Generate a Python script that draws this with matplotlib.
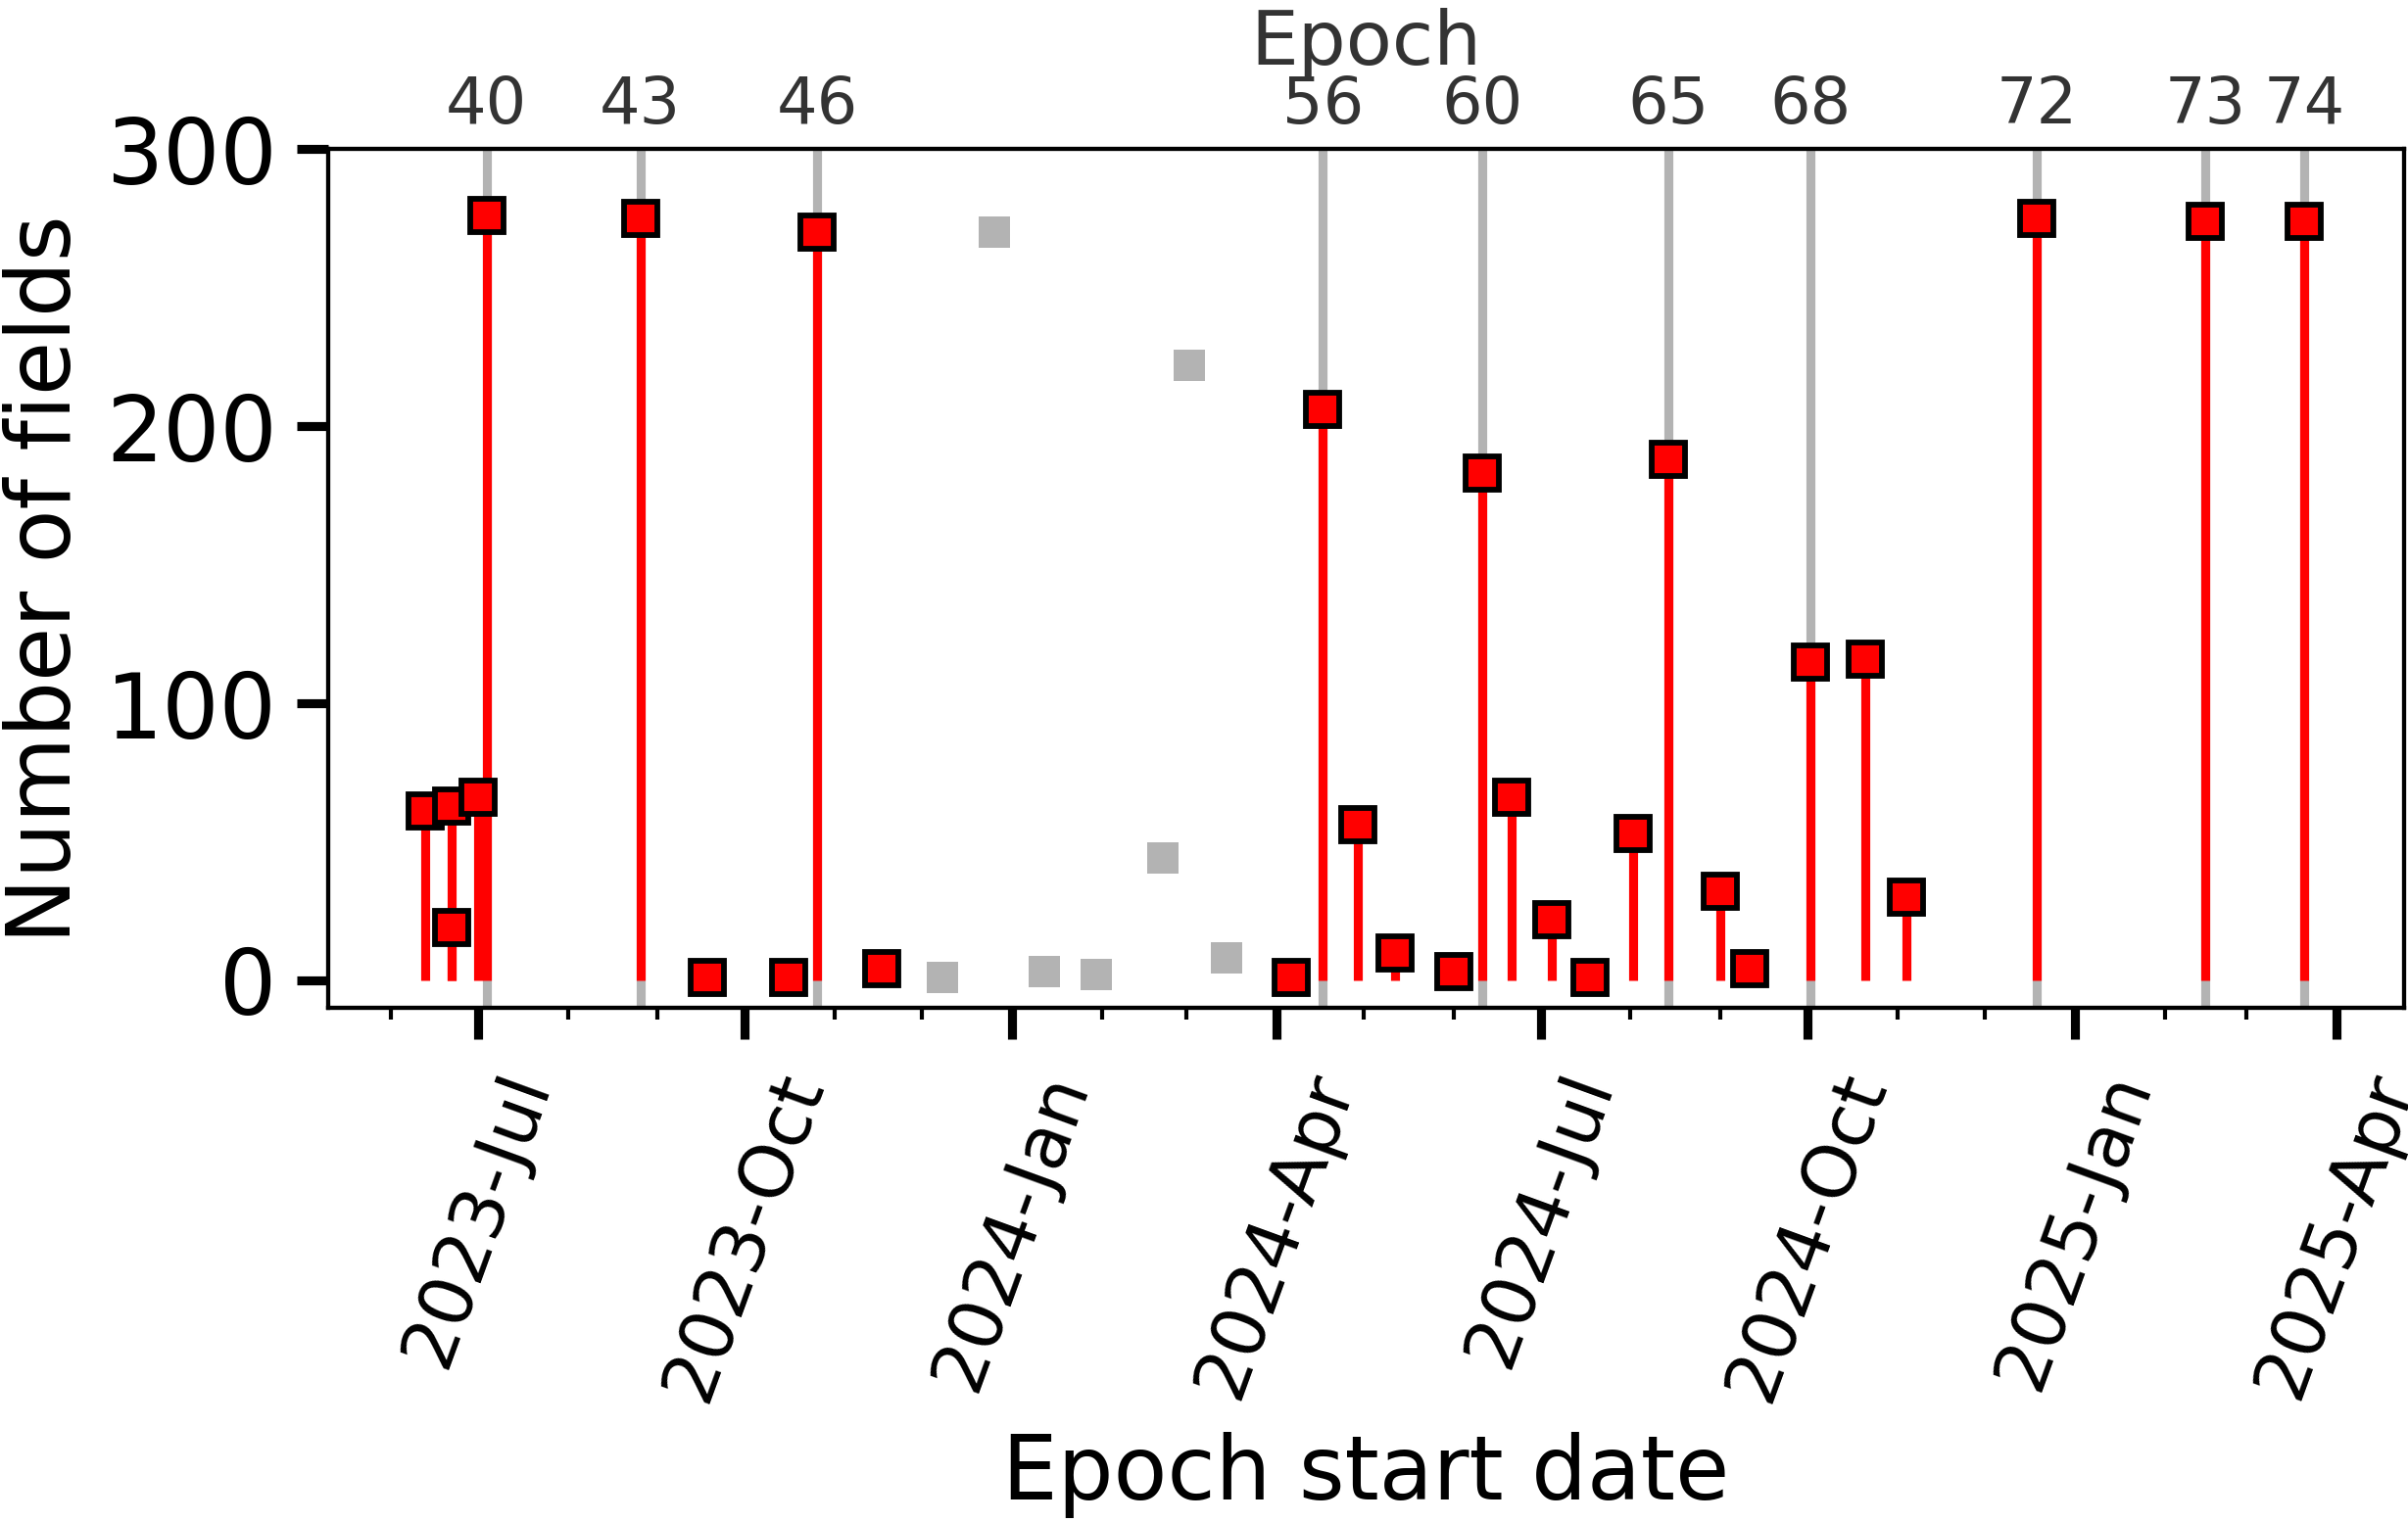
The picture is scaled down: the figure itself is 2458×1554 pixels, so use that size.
import matplotlib
matplotlib.use("Agg")
import matplotlib.pyplot as plt
import matplotlib.dates as mdates
import matplotlib.ticker as mticker
import pandas as pd

# ---- data ----
red_dates = ["2023-06-13", "2023-06-22", "2023-06-22", "2023-07-01", "2023-07-04",
             "2023-08-26", "2023-09-18", "2023-10-16", "2023-10-26", "2023-11-17",
             "2024-04-06", "2024-04-17", "2024-04-29", "2024-05-12", "2024-06-01",
             "2024-06-11", "2024-06-21", "2024-07-05", "2024-07-18", "2024-08-02",
             "2024-08-14", "2024-09-01", "2024-09-11", "2024-10-02", "2024-10-21",
             "2024-11-04", "2024-12-19", "2025-02-15", "2025-03-21"]
red_values = [61, 63, 19, 66, 276,
              275, 1, 1, 270, 4,
              1, 206, 56, 10, 3,
              183, 66, 22, 1, 53,
              188, 32, 4, 115, 116,
              30, 275, 274, 274]

gray_dates = ["2023-12-08", "2023-12-26", "2024-01-12", "2024-01-30",
              "2024-02-22", "2024-03-02", "2024-03-15"]
gray_values = [1, 270, 3, 2, 44, 222, 8]

epoch_dates = ["2023-07-04", "2023-08-26", "2023-10-26", "2024-04-17", "2024-06-11",
               "2024-08-14", "2024-10-02", "2024-12-19", "2025-02-15", "2025-03-21"]
epoch_labels = ["40", "43", "46", "56", "60", "65", "68", "72", "73", "74"]

y_ticks = [0, 100, 200, 300]

# ---- figure ----
rd = pd.to_datetime(red_dates)
gd = pd.to_datetime(gray_dates)
ed = pd.to_datetime(epoch_dates)

fig = plt.figure(figsize=(2458 / 300, 1554 / 300), dpi=300)
ax = fig.add_axes([0.1363, 0.3378, 0.8619, 0.5641])

gray = "#b3b3b3"
for d in ed:
    ax.axvline(d, color=gray, lw=2.2, zorder=1)

ax.vlines(rd, 0, red_values, color="red", lw=2.2, zorder=2)
ax.plot(gd, gray_values, "s", ms=7.5, color=gray, mew=0, zorder=2)
ax.plot(rd, red_values, "s", ms=8.2, mfc="red", mec="black", mew=1.4, zorder=3,
        linestyle="none")

xlim = (pd.Timestamp("2023-05-10 12:00"), pd.Timestamp("2025-04-24 06:00"))
ax.set_xlim(xlim)
ax.set_ylim(-10, 300)
ax.set_yticks(y_ticks)

ax.xaxis.set_major_locator(mdates.MonthLocator(bymonth=[1, 4, 7, 10]))
ax.xaxis.set_minor_locator(mdates.MonthLocator())
ax.xaxis.set_major_formatter(mdates.DateFormatter("%Y-%b"))

for sp in ax.spines.values():
    sp.set_linewidth(1.0)

ax.tick_params(axis="both", which="major", length=7.6, width=2.2, pad=5)
ax.tick_params(axis="y", which="major", labelsize=22)
ax.tick_params(axis="x", which="major", labelsize=18, pad=6)
ax.tick_params(axis="x", which="minor", length=2.9, width=1.0)
plt.setp(ax.get_xticklabels(), rotation=70)

ax.set_xlabel("Epoch start date", fontsize=21.5, labelpad=5.5)
ax.set_ylabel("Number of fields", fontsize=21.5, labelpad=4)

ax2 = ax.twiny()
ax2.set_xlim(xlim)
ax2.set_xticks(ed)
ax2.set_xticklabels(epoch_labels)
ax2.tick_params(axis="x", which="both", length=0, labelsize=15.7, labelcolor="#333333", pad=3)
ax2.xaxis.set_minor_locator(mticker.NullLocator())
ax2.set_xlabel("Epoch", fontsize=18.5, color="#333333", labelpad=2.5)
for sp in ax2.spines.values():
    sp.set_linewidth(1.0)

fig.savefig("out.png", dpi=300)
